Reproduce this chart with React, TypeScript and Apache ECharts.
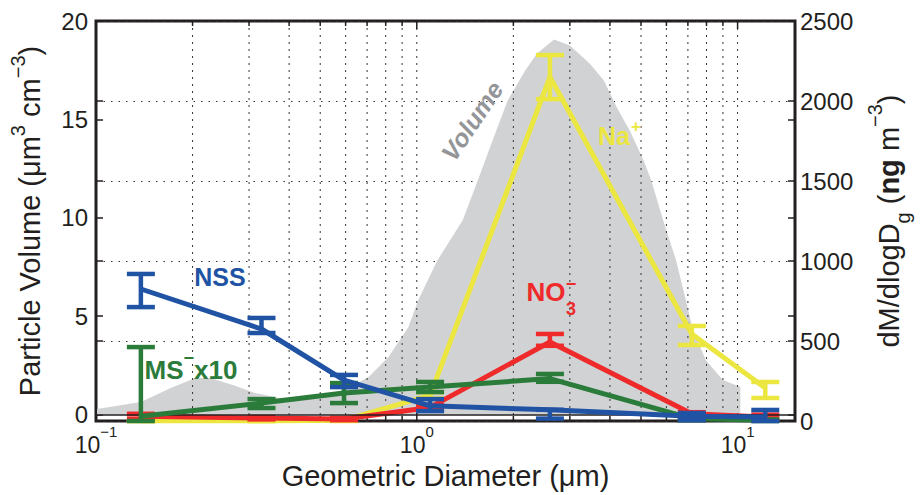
import React, { useEffect, useRef } from "react";
import * as echarts from "echarts";

// Stage mid-point diameters (µm)
const diameters = [0.138, 0.328, 0.593, 1.1, 2.6, 7.2, 12.2];

// dM/dlogDg (ng m^-3) with error bar bounds
const nssValues = [825, 575, 256, 95, 70, 30, 25];
const nssLow = [712, 550, 212, 62, 15, 5, 0];
const nssHigh = [919, 644, 288, 137, 70, 50, 69];

const msValues = [30, 112, 175, 212, 265, 15, 5];
const msLow = [0, 81, 112, 181, 245, 5, 0];
const msHigh = [462, 137, 237, 244, 294, 25, 10];

const no3Values = [30, 18, 12, 85, 494, 45, 25];
const no3Low = [15, 10, 5, 70, 470, 35, 15];
const no3High = [45, 25, 20, 100, 544, 55, 40];

const naValues = [0, 0, 5, 160, 2150, 544, 206];
const naLow = [0, 0, 0, 140, 2012, 475, 144];
const naHigh = [0, 0, 10, 180, 2287, 594, 244];

// Particle volume distribution (µm^3 cm^-3)
const volumeDiam = [
  0.1007, 0.138, 0.171, 0.204, 0.227, 0.267, 0.313, 0.373, 0.479, 0.593, 0.708,
  0.816, 0.941, 1.01, 1.16, 1.39, 1.55, 1.72, 1.92, 2.18, 2.37, 2.68, 3.0, 3.46,
  3.83, 4.2, 4.61, 5.09, 5.38, 5.86, 6.43, 6.9, 7.26, 7.96, 8.99, 9.86, 10.2,
];
const volumeValues = [
  0.28, 0.63, 1.35, 1.85, 1.85, 1.5, 1.09, 0.84, 0.89, 1.24, 1.9, 2.92, 4.44,
  5.81, 7.84, 9.87, 11.9, 13.9, 15.96, 17.5, 18.35, 19.06, 18.76, 17.84, 16.98,
  15.61, 14.44, 12.92, 11.9, 9.87, 7.84, 5.81, 4.29, 2.77, 1.75, 1.5, 1.4,
];

// Axis ticks
const xMajorTicks = [0.1, 1, 10];
const xGridMinor = [0.2, 0.3, 0.4, 0.5, 0.6, 0.7, 0.8, 0.9, 2, 3, 4, 5, 6, 7, 8, 9];
const xGridMajor = [1, 10];
const leftTicks = [0, 5, 10, 15, 20];
const rightTicks = [0, 500, 1000, 1500, 2000, 2500];

const FONT = '"Liberation Sans", Arial, Helvetica, sans-serif';
const INK = "#231f20";
const BLUE = "#2153a4";
const GREEN = "#2b7c3a";
const RED = "#ee2a2a";
const YELLOW = "#ebe640";
const GREY = "#d1d2d4";

function errorSeries(color: string, low: number[], high: number[], z: number) {
  return {
    type: "custom",
    xAxisIndex: 0,
    yAxisIndex: 1,
    z,
    silent: true,
    clip: false,
    encode: { x: 0, y: [1, 2] },
    data: diameters.map((d, i) => [d, low[i], high[i]]),
    renderItem: (params: any, api: any) => {
      const x = api.value(0);
      const lo = api.coord([x, api.value(1)]);
      const hi = api.coord([x, api.value(2)]);
      const w = 14;
      const st = { stroke: color, lineWidth: 4.5 };
      return {
        type: "group",
        children: [
          { type: "line", shape: { x1: lo[0], y1: lo[1], x2: hi[0], y2: hi[1] }, style: st },
          { type: "line", shape: { x1: lo[0] - w, y1: lo[1], x2: lo[0] + w, y2: lo[1] }, style: st },
          { type: "line", shape: { x1: hi[0] - w, y1: hi[1], x2: hi[0] + w, y2: hi[1] }, style: st },
        ],
      };
    },
  };
}

function lineSeries(name: string, color: string, values: number[], z: number) {
  return {
    name,
    type: "line",
    xAxisIndex: 0,
    yAxisIndex: 1,
    z,
    silent: true,
    showSymbol: false,
    symbol: "none",
    data: diameters.map((d, i) => [d, values[i]]),
    lineStyle: { color, width: 5 },
  };
}

export default function App() {
  const ref = useRef<HTMLDivElement>(null);
  useEffect(() => {
    if (!ref.current) return;
    const chart = echarts.init(ref.current, undefined, { renderer: "svg" });
    const gridData = [
      ...xGridMinor.map((v) => [v, 0]),
      ...xGridMajor.map((v) => [v, 1]),
    ];
    const option: any = {
      animation: false,
      backgroundColor: "#ffffff",
      textStyle: { fontFamily: FONT },
      grid: {
        left: 96,
        right: 121,
        top: 21,
        bottom: 74,
        show: true,
        borderColor: INK,
        borderWidth: 3,
        backgroundColor: "transparent",
      },
      xAxis: [
        {
          type: "log",
          logBase: 10,
          min: 0.1,
          max: 15.1,
          axisLine: { show: false },
          axisTick: { show: false },
          splitLine: { show: false },
          minorTick: { show: false },
          axisLabel: {
            customValues: xMajorTicks,
            margin: 3,
            formatter: (v: number) => {
              const e = Math.round(Math.log10(v));
              return `{n|10}{s|${e < 0 ? "\u2212" + -e : e}}`;
            },
            rich: {
              n: { fontSize: 23, lineHeight: 32, verticalAlign: "bottom", color: INK, fontFamily: FONT },
              s: { fontSize: 15, lineHeight: 15, verticalAlign: "top", color: INK, fontFamily: FONT },
            },
          },
          name: "Geometric Diameter (\u03bcm)",
          nameLocation: "middle",
          nameGap: 40,
          nameTextStyle: { fontSize: 29, color: INK, fontFamily: FONT },
        },
      ],
      yAxis: [
        {
          type: "value",
          position: "left",
          min: -0.33,
          max: 20,
          axisLine: { show: false },
          axisTick: { show: true, inside: true, length: 7, customValues: leftTicks, lineStyle: { color: INK, width: 1.5 } },
          axisLabel: { customValues: leftTicks, fontSize: 24, color: INK, margin: 8, fontFamily: FONT },
          splitLine: { show: false },
          name: "{a|Particle Volume (\u03bcm}{s|3}{a| cm}{s|\u22123}{a|)}",
          nameLocation: "middle",
          nameRotate: 90,
          nameGap: 44,
          nameTextStyle: {
            rich: {
              a: { fontSize: 29, lineHeight: 44, verticalAlign: "middle", color: INK, fontFamily: FONT },
              s: { fontSize: 20, lineHeight: 22, verticalAlign: "top", color: INK, fontFamily: FONT },
            },
          },
        },
        {
          type: "value",
          position: "right",
          min: 0,
          max: 2500,
          interval: 500,
          axisLine: { show: false },
          axisTick: { show: true, inside: true, length: 7, customValues: rightTicks, lineStyle: { color: INK, width: 1.5 } },
          axisLabel: {
            customValues: rightTicks,
            fontSize: 24,
            color: INK,
            margin: 5,
            fontFamily: FONT,
            formatter: (v: number) => String(Math.round(v)),
          },
          splitLine: { show: true, lineStyle: { color: "#333333", width: 1, type: [1.5, 6] } },
          name: "{a|dM/dlogD}{g|g}{a| (}{b|ng}{a| m}{s|\u22123}{a|)}",
          nameLocation: "middle",
          nameRotate: 90,
          nameGap: 70,
          nameTextStyle: {
            rich: {
              a: { fontSize: 29, lineHeight: 48, verticalAlign: "middle", color: INK, fontFamily: FONT },
              b: { fontSize: 29, lineHeight: 48, verticalAlign: "middle", fontWeight: "bold", color: INK, fontFamily: FONT },
              g: { fontSize: 20, lineHeight: 24, verticalAlign: "bottom", color: INK, fontFamily: FONT },
              s: { fontSize: 20, lineHeight: 24, verticalAlign: "top", color: INK, fontFamily: FONT },
            },
          },
        },
        {
          type: "value",
          position: "right",
          min: -0.33,
          max: 20,
          axisLine: { show: false },
          axisTick: { show: true, inside: true, length: 7, customValues: leftTicks, lineStyle: { color: INK, width: 1.5 } },
          axisLabel: { show: false },
          splitLine: { show: false },
        },
        {
          type: "value",
          position: "left",
          min: 0,
          max: 2500,
          interval: 500,
          axisLine: { show: false },
          axisTick: { show: true, inside: true, length: 7, lineStyle: { color: INK, width: 1.5 } },
          axisLabel: { show: false },
          splitLine: { show: false },
        },
      ],
      series: [
        {
          name: "Volume",
          type: "line",
          xAxisIndex: 0,
          yAxisIndex: 0,
          z: 1,
          silent: true,
          showSymbol: false,
          symbol: "none",
          data: volumeDiam.map((d, i) => [d, volumeValues[i]]),
          lineStyle: { width: 0, color: GREY },
          areaStyle: { color: GREY, opacity: 1 },
          markLine: {
            silent: true,
            symbol: "none",
            label: { show: false },
            lineStyle: { color: INK, width: 1.5, type: "solid" },
            data: [{ yAxis: 0 }],
          },
        },
        {
          type: "custom",
          xAxisIndex: 0,
          yAxisIndex: 1,
          z: 2,
          silent: true,
          encode: { x: 0, y: 1 },
          data: gridData,
          renderItem: (params: any, api: any) => {
            const x = api.value(0);
            const major = api.value(1) === 1;
            const p = api.coord([x, 0]);
            const cs = params.coordSys;
            const top = cs.y;
            const bottom = cs.y + cs.height;
            const tl = major ? 8 : 5;
            return {
              type: "group",
              children: [
                { type: "line", shape: { x1: p[0], y1: top, x2: p[0], y2: bottom }, style: { stroke: "#333333", lineWidth: 1, lineDash: [2, 5] } },
                { type: "line", shape: { x1: p[0], y1: bottom, x2: p[0], y2: bottom - tl }, style: { stroke: INK, lineWidth: 1.5 } },
                { type: "line", shape: { x1: p[0], y1: top, x2: p[0], y2: top + tl }, style: { stroke: INK, lineWidth: 1.5 } },
              ],
            };
          },
        },
        lineSeries("Na+", YELLOW, naValues, 3),
        errorSeries(YELLOW, naLow, naHigh, 3),
        lineSeries("NO3-", RED, no3Values, 4),
        errorSeries(RED, no3Low, no3High, 4),
        lineSeries("MS- x10", GREEN, msValues, 5),
        errorSeries(GREEN, msLow, msHigh, 5),
        lineSeries("NSS", BLUE, nssValues, 6),
        errorSeries(BLUE, nssLow, nssHigh, 6),
      ],
      graphic: [
        {
          type: "text",
          x: 472,
          y: 121,
          rotation: (56 * Math.PI) / 180,
          z: 10,
          style: {
            text: "Volume",
            fill: "#939598",
            font: `italic bold 25px ${FONT}`,
            align: "center",
            verticalAlign: "middle",
          },
        },
        {
          type: "text",
          x: 220,
          y: 277,
          z: 10,
          style: { text: "NSS", fill: BLUE, font: `bold 25px ${FONT}`, align: "center", verticalAlign: "middle" },
        },
        {
          type: "text",
          x: 191,
          y: 366,
          z: 10,
          style: {
            text: "{a|MS}{s|\u2212}{a|x10}",
            align: "center",
            verticalAlign: "middle",
            rich: {
              a: { fontSize: 26, fontWeight: "bold", fontFamily: FONT, fill: GREEN, color: GREEN, lineHeight: 34, verticalAlign: "bottom" },
              s: { fontSize: 18, fontWeight: "bold", fontFamily: FONT, fill: GREEN, color: GREEN, lineHeight: 18, verticalAlign: "top" },
            },
          },
        },
        {
          type: "text",
          x: 546,
          y: 292,
          z: 10,
          style: { text: "NO", fill: RED, font: `bold 26px ${FONT}`, align: "center", verticalAlign: "middle" },
        },
        {
          type: "text",
          x: 571,
          y: 284,
          z: 10,
          style: { text: "\u2212", fill: RED, font: `bold 18px ${FONT}`, align: "center", verticalAlign: "middle" },
        },
        {
          type: "text",
          x: 571,
          y: 309,
          z: 10,
          style: { text: "3", fill: RED, font: `bold 18px ${FONT}`, align: "center", verticalAlign: "middle" },
        },
        {
          type: "text",
          x: 614,
          y: 136,
          z: 10,
          style: { text: "Na", fill: YELLOW, font: `bold 25px ${FONT}`, align: "center", verticalAlign: "middle" },
        },
        {
          type: "text",
          x: 636,
          y: 126,
          z: 10,
          style: { text: "+", fill: YELLOW, font: `bold 17px ${FONT}`, align: "center", verticalAlign: "middle" },
        },
      ],
    };
    chart.setOption(option);
    return () => chart.dispose();
  }, []);
  return (
    <div
      ref={ref}
      style={{ position: "fixed", left: 0, top: 0, width: 921, height: 495, background: "#fff" }}
    />
  );
}
